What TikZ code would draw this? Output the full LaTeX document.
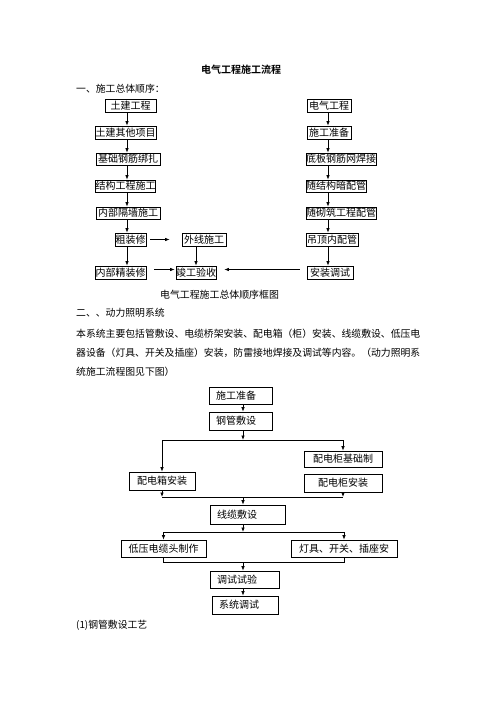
\documentclass[tikz,border=0pt]{standalone}
\usepackage{fontspec}
\setmainfont{Noto Sans CJK SC}[BoldFont={Noto Sans CJK SC Bold}]
\usetikzlibrary{arrows.meta}
\begin{document}
\begin{tikzpicture}[x=1pt, y=-1pt,
  box/.style={draw, line width=0.8pt, inner sep=0pt, minimum height=13pt, font=\fontsize{10}{10}\selectfont},
  flowbox/.style={draw, line width=0.7pt, inner sep=0pt, font=\fontsize{10}{10}\selectfont},
  lbox/.style={flowbox, align=left, inner xsep=7pt},
  txt/.style={anchor=west, inner sep=0pt, font=\fontsize{9.83}{10}\selectfont},
  arr/.style={->, >={Latex[length=4.5pt,width=3.5pt]}, line width=0.7pt}]
\useasboundingbox (0,0) rectangle (496,702);

\node[font=\bfseries\fontsize{10}{10}\selectfont] (title) at (241,70) {电气工程施工流程};
\node[txt] (head1) at (76,89) {一、施工总体顺序：};

\coordinate (lc) at (127,0);
\coordinate (rc) at (328,0);

\node[box, minimum width=51] at (130.5,105.5)(tj) {土建工程};
\node[box, minimum width=61] at (125.5,132.5)(tjqt) {土建其他项目};
\node[box, minimum width=64, minimum height=12] at (128,159)(jcgj) {基础钢筋绑扎};
\node[box, minimum width=59, minimum height=12] at (125.5,186)(jggc) {结构工程施工};
\node[box, minimum width=64, minimum height=12] at (128,213)(nbgq) {内部隔墙施工};
\node[box, minimum width=31] at (130.5,239.5)(czx) {粗装修};
\node[box, minimum width=44] at (204,239.5)(wxsg) {外线施工};
\node[box, minimum width=51] at (120.5,272.5)(nbjz) {内部精装修};
\node[box, minimum width=40] at (196,272.5)(jgys) {竣工验收};

\node[box, minimum width=44] at (329,105.5)(dqgc) {电气工程};
\node[box, minimum width=44] at (329,132.5)(sgzb) {施工准备};
\node[box, minimum width=70, minimum height=12] at (341,159)(dbgj) {底板钢筋网焊接};
\node[box, minimum width=60, minimum height=12] at (336,186)(sjgp) {随结构暗配管};
\node[box, minimum width=70, minimum height=12] at (341,213)(sqzp) {随砌筑工程配管};
\node[box, minimum width=52] at (332,239.5)(ddnp) {吊顶内配管};
\node[box, minimum width=46] at (330,272.5)(azts) {安装调试};

\draw[arr] (tj.south -| lc) -- (tjqt.north -| lc);
\draw[arr] (tjqt.south -| lc) -- (jcgj.north -| lc);
\draw[arr] (jcgj.south -| lc) -- (jggc.north -| lc);
\draw[arr] (jggc.south -| lc) -- (nbgq.north -| lc);
\draw[arr] (nbgq.south -| lc) -- (czx.north -| lc);
\draw[arr] (czx.south -| lc) -- (nbjz.north -| lc);
\draw[arr] (wxsg.south -| jgys) -- (jgys.north);

\draw[arr] (dqgc.south -| rc) -- (sgzb.north -| rc);
\draw[arr] (sgzb.south -| rc) -- (dbgj.north -| rc);
\draw[arr] (dbgj.south -| rc) -- (sjgp.north -| rc);
\draw[arr] (sjgp.south -| rc) -- (sqzp.north -| rc);
\draw[arr] (sqzp.south -| rc) -- (ddnp.north -| rc);
\draw[arr] (ddnp.south -| rc) -- (azts.north -| rc);

\draw[arr, shorten <=4pt, shorten >=12pt] (czx.east) -- (wxsg.west);
\draw[arr, shorten <=8pt, shorten >=1pt] ([yshift=3pt]nbjz.east) -- ([yshift=3pt]jgys.west);
\draw[arr, shorten <=7pt, shorten >=8pt] ([yshift=3pt]azts.west) -- ([yshift=3pt]jgys.east);

\node[font=\fontsize{9.9}{10}\selectfont] (cap1) at (219.5,295) {电气工程施工总体顺序框图};
\node[txt] (head2) at (76,313) {二、、动力照明系统};
\node[txt] (line1) at (76,334) {本系统主要包括管敷设、电缆桥架安装、配电箱（柜）安装、线缆敷设、低压电};
\node[txt] (line2) at (76,353) {器设备（灯具、开关及插座）安装，防雷接地焊接及调试等内容。（动力照明系};
\node[txt] (line3) at (76,372) {统施工流程图见下图）};

\coordinate (mc) at (243,0);
\coordinate (bus1) at (0,440);
\coordinate (bus2) at (0,497);
\coordinate (bus3) at (0,532);
\coordinate (bus4) at (0,562);

\node[lbox, text width=49, minimum height=17] at (240.5,395.5)(zb2) {施工准备};
\node[lbox, text width=49, minimum height=18] at (240.5,421)(ggfs) {钢管敷设};
\node[flowbox, minimum width=78, minimum height=16] at (343,459)(pdgj) {配电柜基础制};
\node[flowbox, minimum width=66, minimum height=18] at (162,481)(pdxa) {配电箱安装};
\node[flowbox, minimum width=78, minimum height=18] at (343,483)(pdga) {配电柜安装};
\node[lbox, text width=61, minimum height=19] at (247.5,514.5)(xlfs) {线缆敷设};
\node[flowbox, minimum width=85, minimum height=17] at (163.5,548.5)(dydl) {低压电缆头制作};
\node[flowbox, minimum width=106, minimum height=17] at (344,548.5)(djkg) {灯具、开关、插座安};
\node[lbox, text width=55, minimum height=17] at (244.5,579.5)(tssy) {调试试验};
\node[lbox, text width=52, minimum height=18] at (245,605)(xtts) {系统调试};

\draw[arr] (zb2.south -| mc) -- (ggfs.north -| mc);
\draw[arr] (ggfs.south -| mc) -- (bus1 -| mc);
\draw (bus1 -| pdxa) -- (bus1 -| pdgj);
\draw[arr] (bus1 -| pdxa) -- (pdxa.north);
\draw[arr] (bus1 -| pdgj) -- (pdgj.north);

\draw[arr] (pdxa.south) -- (bus2 -| pdxa);
\draw[arr] (pdga.south) -- (bus2 -| pdga);
\draw (bus2 -| pdxa) -- (bus2 -| pdga);
\draw[arr] (bus2 -| mc) -- (xlfs.north -| mc);

\draw[arr] (xlfs.south -| mc) -- (bus3 -| mc);
\draw (bus3 -| dydl) -- (bus3 -| djkg);
\draw[arr] (bus3 -| dydl) -- (dydl.north);
\draw[arr] (bus3 -| djkg) -- (djkg.north);

\draw (dydl.south) -- (bus4 -| dydl) -- (bus4 -| djkg) -- (djkg.south);
\draw[arr] (bus4 -| mc) -- (tssy.north -| mc);
\draw[arr] (tssy.south -| mc) -- (xtts.north -| mc);

\node[txt] (head3) at (76,625) {(1)钢管敷设工艺};
\end{tikzpicture}
\end{document}
